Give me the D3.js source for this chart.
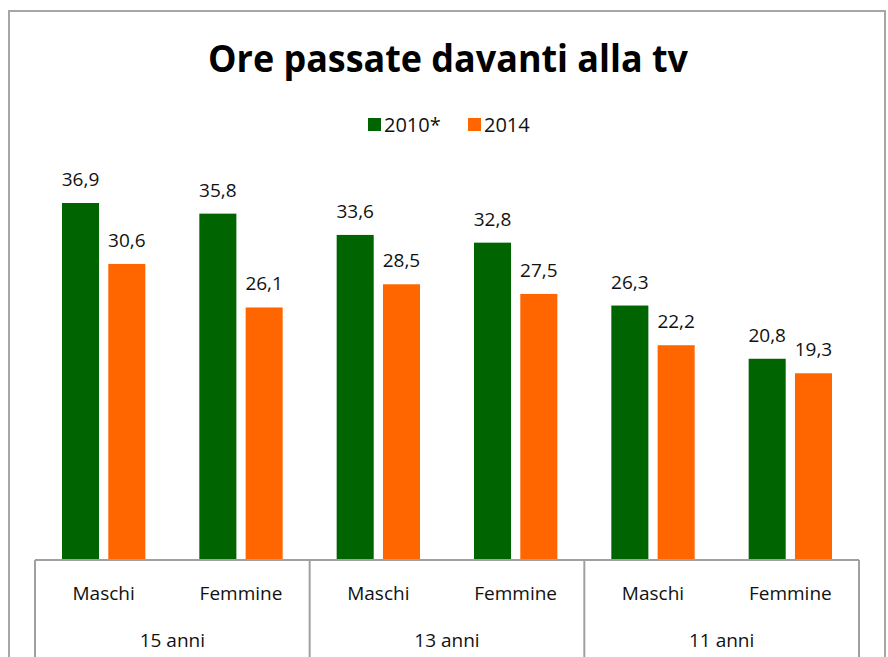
<!DOCTYPE html>
<html lang="it">
<head>
<meta charset="utf-8">
<title>Ore passate davanti alla tv</title>
<script src="https://cdn.jsdelivr.net/npm/d3@7"></script>
<style>
  body { margin: 0; background: #fff; }
  text { font-family: "Open Sans", sans-serif; }
</style>
</head>
<body>
<script>
// dati
var gruppi = ["15 anni", "13 anni", "11 anni"];
var sessi = ["Maschi", "Femmine"];
var serie = ["2010*", "2014"];
var valori2010 = [36.9, 35.8, 33.6, 32.8, 26.3, 20.8];
var valori2014 = [30.6, 26.1, 28.5, 27.5, 22.2, 19.3];
var colori = ["#006400", "#ff6600"];

var W = 888, H = 657;
var svg = d3.select("body").append("svg")
  .attr("width", W).attr("height", H);

// cornice esterna
svg.append("rect")
  .attr("x", 9).attr("y", 11).attr("width", 876).attr("height", 660)
  .attr("fill", "#fff").attr("stroke", "#a6a6a6").attr("stroke-width", 2);

var left = 35, right = 859, base = 560;

// categorie: una per ogni gruppo x sesso
var categorie = [];
gruppi.forEach(function(g) {
  sessi.forEach(function(s) { categorie.push(g + "|" + s); });
});

var x = d3.scaleBand().domain(categorie).range([left, right]);
var xs = d3.scaleBand().domain(serie).range([27, x.bandwidth() - 27]).paddingInner(0.2);
var y = d3.scaleLinear().domain([0, 40]).range([base, base - 387]);

// titolo
svg.append("text")
  .attr("x", 448).attr("y", 72)
  .attr("text-anchor", "middle")
  .attr("font-size", 38).attr("font-weight", "bold")
  .attr("textLength", 480).attr("lengthAdjust", "spacingAndGlyphs")
  .text("Ore passate davanti alla tv");

// legenda
var leg = svg.append("g");
var legX = [368, 468];
serie.forEach(function(s, i) {
  leg.append("rect")
    .attr("x", legX[i]).attr("y", 118).attr("width", 13).attr("height", 13)
    .attr("fill", colori[i]);
  leg.append("text")
    .attr("x", legX[i] + 16).attr("y", 132)
    .attr("font-size", 20).attr("fill", "#111")
    .text(s);
});

// barre
var dati = [];
categorie.forEach(function(c, i) {
  dati.push({ cat: c, serie: serie[0], v: valori2010[i], col: colori[0] });
  dati.push({ cat: c, serie: serie[1], v: valori2014[i], col: colori[1] });
});

svg.selectAll("rect.bar").data(dati).enter().append("rect")
  .attr("class", "bar")
  .attr("x", function(d) { return x(d.cat) + xs(d.serie); })
  .attr("y", function(d) { return y(d.v); })
  .attr("width", xs.bandwidth())
  .attr("height", function(d) { return base - y(d.v); })
  .attr("fill", function(d) { return d.col; });

svg.selectAll("text.val").data(dati).enter().append("text")
  .attr("class", "val")
  .attr("x", function(d) { return x(d.cat) + xs(d.serie) + xs.bandwidth() / 2; })
  .attr("y", function(d) { return y(d.v) - 17; })
  .attr("text-anchor", "middle")
  .attr("font-size", 19).attr("fill", "#111")
  .text(function(d) { return d3.format(".1f")(d.v).replace(".", ","); });

// asse categorie
var ax = svg.append("g").attr("stroke", "#a0a0a0").attr("stroke-width", 2);
ax.append("line").attr("x1", left).attr("x2", right).attr("y1", base).attr("y2", base);
var confini = [left, x(categorie[2]), x(categorie[4]), right];
confini.forEach(function(cx) {
  ax.append("line").attr("x1", cx).attr("x2", cx).attr("y1", base).attr("y2", H + 5);
});

svg.selectAll("text.sesso").data(categorie).enter().append("text")
  .attr("class", "sesso")
  .attr("x", function(c) { return x(c) + x.bandwidth() / 2; })
  .attr("y", 600)
  .attr("text-anchor", "middle")
  .attr("font-size", 19).attr("fill", "#111")
  .text(function(c) { return c.split("|")[1]; });

svg.selectAll("text.gruppo").data(gruppi).enter().append("text")
  .attr("class", "gruppo")
  .attr("x", function(g) { return (x(g + "|" + sessi[0]) + x(g + "|" + sessi[1]) + x.bandwidth()) / 2; })
  .attr("y", 647)
  .attr("text-anchor", "middle")
  .attr("font-size", 19).attr("fill", "#111")
  .text(function(g) { return g; });
</script>
</body>
</html>
